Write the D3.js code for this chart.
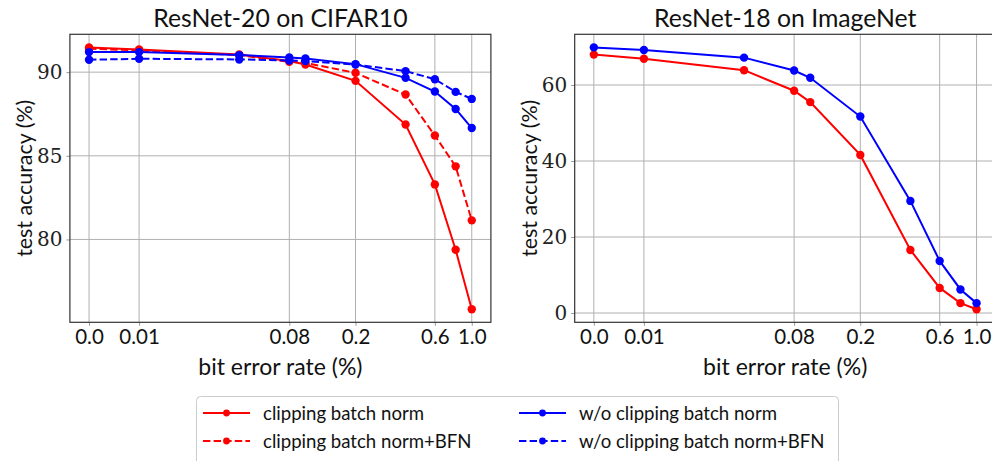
<!DOCTYPE html>
<html lang="en">
<head>
<meta charset="utf-8">
<title>Bit error rate vs accuracy</title>
<script src="https://cdn.jsdelivr.net/npm/d3@7"></script>
<style>
  body { margin: 0; background: #fff; }
  svg { display: block; }
  .title, .axis-label, .xtick, .legend-text { font-family: Lato, "DejaVu Sans", sans-serif; fill: #111; }
  .ytick { font-family: "DejaVu Serif", "Liberation Serif", serif; fill: #222; }
</style>
</head>
<body>
<div id="chart"></div>
<script>
// bit error rates (%) where each model was evaluated
var berValues = [0, 0.01, 0.04, 0.08, 0.1, 0.2, 0.4, 0.6, 0.8, 1.0];
var xTickValues = [0, 0.01, 0.08, 0.2, 0.6, 1.0];
var xTickLabels = ["0.0", "0.01", "0.08", "0.2", "0.6", "1.0"];

// ResNet-20 on CIFAR10
var cifarClip      = [91.48, 91.36, 91.06, 90.66, 90.46, 89.48, 86.87, 83.29, 79.38, 75.83];
var cifarClipBFN   = [91.40, 91.30, 91.02, 90.62, 90.55, 89.96, 88.66, 86.21, 84.37, 81.14];
var cifarNoClip    = [91.20, 91.20, 91.02, 90.88, 90.82, 90.48, 89.66, 88.84, 87.80, 86.66];
var cifarNoClipBFN = [90.74, 90.80, 90.76, 90.70, 90.66, 90.46, 90.06, 89.58, 88.82, 88.40];
var cifarYTicks = [80, 85, 90];

// ResNet-18 on ImageNet
var imagenetClip   = [68.0, 66.9, 63.9, 58.5, 55.5, 41.6, 16.6, 6.6, 2.6, 1.0];
var imagenetNoClip = [69.9, 69.2, 67.2, 63.8, 61.9, 51.7, 29.5, 13.7, 6.2, 2.6];
var imagenetYTicks = [0, 20, 40, 60];

var seriesNames = ["clipping batch norm", "clipping batch norm+BFN",
                   "w/o clipping batch norm", "w/o clipping batch norm+BFN"];
var seriesColors = ["#ff0000", "#ff0000", "#0000ff", "#0000ff"];
var seriesDashed = [false, true, false, true];

var W = 992, H = 461;
var svg = d3.select("#chart").append("svg").attr("width", W).attr("height", H);

// zero can't go on a log axis, so it sits one doubling left of 0.01
var zeroPos = 0.005;
function xv(v) { return v === 0 ? zeroPos : v; }

function panel(opts) {
  var pw = 421, ph = 288;
  var g = svg.append("g").attr("transform", "translate(" + opts.left + "," + opts.top + ")");

  var pad = pw / 1.1 * 0.05;
  var x = d3.scaleLog().domain([zeroPos, 1]).range([pad, pw - pad]);

  var all = [];
  opts.series.forEach(function(s) { all = all.concat(s.values); });
  var ext = d3.extent(all), m = (ext[1] - ext[0]) * 0.05;
  var y = d3.scaleLinear().domain([ext[0] - m, ext[1] + m]).range([ph, 0]);

  g.append("defs").append("clipPath").attr("id", "clip" + opts.id)
    .append("rect").attr("width", pw).attr("height", ph);

  // grid
  g.selectAll(".vgrid").data(xTickValues).enter().append("line")
    .attr("x1", function(d) { return x(xv(d)); }).attr("x2", function(d) { return x(xv(d)); })
    .attr("y1", 0).attr("y2", ph)
    .attr("stroke", "#b0b0b0").attr("stroke-width", 1);
  g.selectAll(".hgrid").data(opts.yTicks).enter().append("line")
    .attr("x1", 0).attr("x2", pw)
    .attr("y1", function(d) { return y(d); }).attr("y2", function(d) { return y(d); })
    .attr("stroke", "#b0b0b0").attr("stroke-width", 1);

  // axes
  var xAxis = d3.axisBottom(x).tickValues(xTickValues.map(xv))
    .tickFormat(function(d, i) { return xTickLabels[i]; }).tickSize(3.5).tickPadding(4);
  var gx = g.append("g").attr("transform", "translate(0," + ph + ")").call(xAxis);
  gx.select(".domain").remove();
  gx.selectAll(".tick line").attr("stroke", "#999");
  gx.selectAll(".tick text").attr("class", "xtick").attr("font-size", 20.5).attr("fill", "#111");

  var yAxis = d3.axisLeft(y).tickValues(opts.yTicks).tickSize(3.5).tickPadding(4);
  var gy = g.append("g").call(yAxis);
  gy.select(".domain").remove();
  gy.selectAll(".tick line").attr("stroke", "#999");
  gy.selectAll(".tick text").attr("class", "ytick").attr("font-size", 20).attr("fill", "#222");

  var lines = g.append("g").attr("clip-path", "url(#clip" + opts.id + ")");
  var line = d3.line()
    .x(function(d) { return x(xv(d[0])); })
    .y(function(d) { return y(d[1]); });

  opts.series.forEach(function(s) {
    var pts = berValues.map(function(b, i) { return [b, s.values[i]]; });
    lines.append("path").datum(pts)
      .attr("d", line).attr("fill", "none")
      .attr("stroke", s.color).attr("stroke-width", 2)
      .attr("stroke-dasharray", s.dashed ? "7.4,3.2" : null);
    lines.selectAll(null).data(pts).enter().append("circle")
      .attr("cx", function(d) { return x(xv(d[0])); })
      .attr("cy", function(d) { return y(d[1]); })
      .attr("r", 4.2).attr("fill", s.color);
  });

  g.append("rect").attr("width", pw).attr("height", ph)
    .attr("fill", "none").attr("stroke", "#333").attr("stroke-width", 1.2);

  g.append("text").attr("class", "title")
    .attr("x", pw / 2).attr("y", -7).attr("text-anchor", "middle")
    .attr("font-size", 24.8).text(opts.title);

  g.append("text").attr("class", "axis-label")
    .attr("x", pw / 2).attr("y", ph + 53).attr("text-anchor", "middle")
    .attr("font-size", 23).text("bit error rate (%)");

  g.append("text").attr("class", "axis-label")
    .attr("transform", "translate(" + (-38) + "," + (ph / 2) + ") rotate(-90)")
    .attr("text-anchor", "middle")
    .attr("font-size", 21.4).text("test accuracy (%)");
}

panel({
  id: "a", left: 69.9, top: 34.3, title: "ResNet-20 on CIFAR10", yTicks: cifarYTicks,
  series: [cifarClip, cifarClipBFN, cifarNoClip, cifarNoClipBFN].map(function(v, i) {
    return { values: v, color: seriesColors[i], dashed: seriesDashed[i] };
  })
});

panel({
  id: "b", left: 574.7, top: 34.3, title: "ResNet-18 on ImageNet", yTicks: imagenetYTicks,
  series: [imagenetClip, imagenetNoClip].map(function(v, i) {
    return { values: v, color: seriesColors[i * 2], dashed: false };
  })
});

// legend
var leg = svg.append("g").attr("transform", "translate(196,396)");
leg.append("rect").attr("x", 0.5).attr("y", 0.5).attr("width", 642).attr("height", 80)
  .attr("rx", 4).attr("fill", "#fff").attr("stroke", "#ccc").attr("stroke-width", 1);

seriesNames.forEach(function(name, i) {
  var col = Math.floor(i / 2), row = i % 2;
  var lx = col === 0 ? 7 : 323, ly = row === 0 ? 17 : 45;
  var item = leg.append("g").attr("transform", "translate(" + lx + "," + ly + ")");
  item.append("line").attr("x1", 0).attr("x2", 47).attr("y1", 0).attr("y2", 0)
    .attr("stroke", seriesColors[i]).attr("stroke-width", 2)
    .attr("stroke-dasharray", seriesDashed[i] ? "7.4,3.2" : null);
  item.append("circle").attr("cx", 23.5).attr("cy", 0).attr("r", 3.4).attr("fill", seriesColors[i]);
  item.append("text").attr("class", "legend-text")
    .attr("x", 60).attr("y", 6.5).attr("font-size", 18.6).text(name);
});
</script>
</body>
</html>
